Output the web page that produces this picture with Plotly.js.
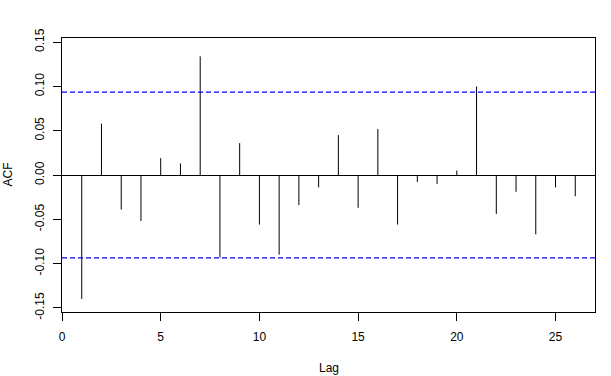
<!DOCTYPE html>
<html>
<head>
<meta charset="utf-8">
<script src="https://cdn.plot.ly/plotly-3.0.1.min.js"></script>
<style>html,body{margin:0;padding:0;background:#fff;}#chart{width:611px;height:376px;}</style>
</head>
<body>
<div id="chart"></div>
<script>
const lags = [1,2,3,4,5,6,7,8,9,10,11,12,13,14,15,16,17,18,19,20,21,22,23,24,25,26];
const acf = [-0.140,0.058,-0.039,-0.052,0.019,0.013,0.134,-0.093,0.036,-0.056,-0.090,-0.034,-0.014,0.045,-0.037,0.052,-0.056,-0.008,-0.010,0.005,0.100,-0.044,-0.019,-0.067,-0.014,-0.024];
const ciBound = 0.0936;
const xTicks = [0,5,10,15,20,25];
const yTicks = [-0.15,-0.10,-0.05,0.00,0.05,0.10,0.15];
const yTickLabels = ["-0.15","-0.10","-0.05","0.00","0.05","0.10","0.15"];

const sx = [], sy = [];
lags.forEach((l,i)=>{ sx.push(l,l,null); sy.push(0,acf[i],null); });

const font = {family:"Liberation Sans, Arial, sans-serif", size:12, color:"#000"};
const traces = [
  {x:sx, y:sy, type:"scatter", mode:"lines", line:{color:"#000", width:1}, hoverinfo:"skip"},
  {x:[0,27], y:[ciBound,ciBound], type:"scatter", mode:"lines", line:{color:"#0000ff", width:1.2, dash:"5px,3px"}},
  {x:[0,27], y:[-ciBound,-ciBound], type:"scatter", mode:"lines", line:{color:"#0000ff", width:1.2, dash:"5px,3px"}}
];
const layout = {
  width:611, height:376,
  margin:{l:61.5, r:15.7, t:38, b:63.7},
  paper_bgcolor:"#fff", plot_bgcolor:"#fff",
  showlegend:false,
  font:font,
  xaxis:{range:[0,27], tickvals:xTicks, ticktext:xTicks.map(String), ticks:"outside", ticklen:8, tickwidth:1, tickcolor:"#000",
         showline:true, mirror:true, linecolor:"#000", linewidth:1, showgrid:false, zeroline:false, tickfont:font, ticklabelstandoff:6},
  yaxis:{range:[-0.1547,0.1547], tickvals:yTicks, ticktext:yTickLabels, ticks:"outside", ticklen:8, tickwidth:1, tickcolor:"#000",
         showline:true, mirror:true, linecolor:"#000", linewidth:1, showgrid:false, zeroline:true, zerolinecolor:"#000", zerolinewidth:1,
         tickangle:-90, tickfont:font, ticklabelstandoff:4},
  annotations:[
    {text:"Lag", xref:"paper", yref:"paper", x:0.5, y:0, yshift:-55.7, xanchor:"center", yanchor:"middle", showarrow:false, font:font},
    {text:"ACF", xref:"paper", yref:"paper", x:0, y:0.5, xshift:-54.5, xanchor:"center", yanchor:"middle", textangle:-90, showarrow:false, font:font}
  ]
};
Plotly.newPlot("chart", traces, layout, {displayModeBar:false, staticPlot:true});
</script>
</body>
</html>
